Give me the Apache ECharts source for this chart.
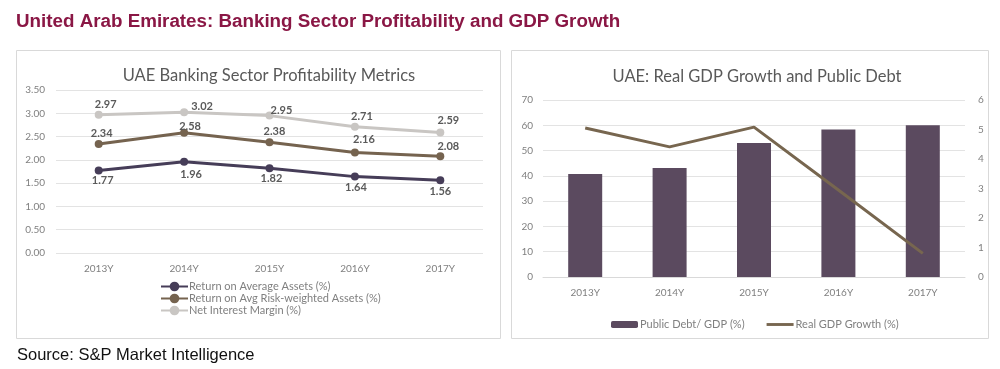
<!DOCTYPE html>
<html><head><meta charset="utf-8">
<script src="https://cdn.jsdelivr.net/npm/echarts@6/dist/echarts.min.js"></script>
<style>html,body{margin:0;padding:0;background:#fff}#c{width:1000px;height:369px}</style>
</head><body><div id="c"></div>
<script>
const years = ['2013Y','2014Y','2015Y','2016Y','2017Y'];
const roaa = [1.77,1.96,1.82,1.64,1.56];
const rorwa = [2.34,2.58,2.38,2.16,2.08];
const nim = [2.97,3.02,2.95,2.71,2.59];
const debtGdp = [40.7,43.1,53.0,58.3,60.0];
const gdpGrowth = [5.05,4.41,5.08,2.95,0.8];

const chart = echarts.init(document.getElementById('c'), null, {renderer:'canvas'});
const font = 'Lato, "Open Sans", sans-serif';
const axisLbl = {color:'#808080', fontSize:10, fontFamily:font};

// label placement tweaks (pixel offsets from each point), mimicking the original layout
const offsets = {
  roaa:  [[4,10],[7,13],[2,10],[1,11],[0,11]],
  rorwa: [[3,-11],[6,-6],[5,-11],[9,-13],[8,-10]],
  nim:   [[7,-10],[18,-6],[12,-5],[7,-10],[8,-12]]
};
const lineS = (name,vals,color,offs)=>({
  name, type:'line', xAxisIndex:0, yAxisIndex:0, symbol:'circle', symbolSize:8,
  lineStyle:{width:3,color}, itemStyle:{color},
  data: vals.map((v,i)=>({value:v, label:{offset:offs[i]}})),
  label:{show:true, position:'inside', color:'#5a5a5a', fontSize:11, fontWeight:'bold', fontFamily:font, formatter:p=>p.value.toFixed(2)}
});

chart.setOption({
  animation:false,
  title:[
    {text:'United Arab Emirates: Banking Sector Profitability and GDP Growth', left:11, top:7, textStyle:{color:'#8a1745', fontSize:18.8, fontWeight:'bold', fontFamily:'"Liberation Sans", Arial, sans-serif'}},
    {text:'UAE Banking Sector Profitability Metrics', left:264, textAlign:'center', top:62, textStyle:{color:'#595959', fontSize:16.5, fontWeight:'normal', fontFamily:font}},
    {text:'UAE: Real GDP Growth and Public Debt', left:752, textAlign:'center', top:63, textStyle:{color:'#595959', fontSize:16.5, fontWeight:'normal', fontFamily:font}},
    {text:'Source: S&P Market Intelligence', left:12, top:342, textStyle:{color:'#111', fontSize:16.5, fontWeight:'normal', fontFamily:'"Liberation Sans", Arial, sans-serif'}}
  ],
  graphic:[
    {type:'rect', shape:{x:16.5,y:50.5,width:484,height:288}, style:{fill:'none', stroke:'#d9d9d9', lineWidth:1}, z:-1},
    {type:'rect', shape:{x:511.5,y:50.5,width:477,height:288}, style:{fill:'none', stroke:'#d9d9d9', lineWidth:1}, z:-1}
  ],
  legend:[
    {data:['Return on Average Assets (%)','Return on Avg Risk-weighted Assets (%)','Net Interest Margin (%)'], orient:'vertical', left:155, top:276, itemGap:1, itemWidth:27, itemHeight:12, textStyle:{color:'#808080', fontSize:11, fontFamily:font, padding:[0,0,0,-4]}},
    {data:[{name:'Public Debt/ GDP (%)'},{name:'Real GDP Growth (%)', icon:'path://M0,0H30V3.2H0Z'}], left:606, top:314, itemGap:22, itemWidth:27, itemHeight:7, textStyle:{color:'#808080', fontSize:11, fontFamily:font, padding:[0,0,0,-3]}}
  ],
  grid:[
    {left:56, right:517, top:90, bottom:116},
    {left:543, right:35, top:100, bottom:92}
  ],
  xAxis:[
    {type:'category', gridIndex:0, data:years, axisLine:{show:false}, axisTick:{show:false}, axisLabel:{...axisLbl, margin:11}},
    {type:'category', gridIndex:1, data:years, axisLine:{lineStyle:{color:'#d9d9d9'}}, axisTick:{show:false}, axisLabel:{...axisLbl, margin:11}}
  ],
  yAxis:[
    {type:'value', gridIndex:0, min:0, max:3.5, interval:0.5, axisLine:{show:false}, axisTick:{show:false}, splitLine:{lineStyle:{color:'#e3e3e3'}}, axisLabel:{...axisLbl, margin:11, formatter:v=>v.toFixed(2)}},
    {type:'value', gridIndex:1, min:0, max:70, interval:10, axisLine:{show:false}, axisTick:{show:false}, splitLine:{lineStyle:{color:'#e3e3e3'}}, axisLabel:{...axisLbl, margin:10}},
    {type:'value', gridIndex:1, position:'right', min:0, max:6, interval:1, axisLine:{show:false}, axisTick:{show:false}, splitLine:{show:false}, axisLabel:{...axisLbl, margin:13}}
  ],
  series:[
    lineS('Return on Average Assets (%)', roaa, '#463d58', offsets.roaa),
    lineS('Return on Avg Risk-weighted Assets (%)', rorwa, '#75634f', offsets.rorwa),
    lineS('Net Interest Margin (%)', nim, '#c9c6c3', offsets.nim),
    {name:'Public Debt/ GDP (%)', type:'bar', xAxisIndex:1, yAxisIndex:1, data:debtGdp, barWidth:34, itemStyle:{color:'#5b4a5f'}},
    {name:'Real GDP Growth (%)', type:'line', xAxisIndex:1, yAxisIndex:2, data:gdpGrowth, symbol:'none', lineStyle:{width:3,color:'#77664f'}, itemStyle:{color:'#77664f'}}
  ]
});
</script></body></html>
